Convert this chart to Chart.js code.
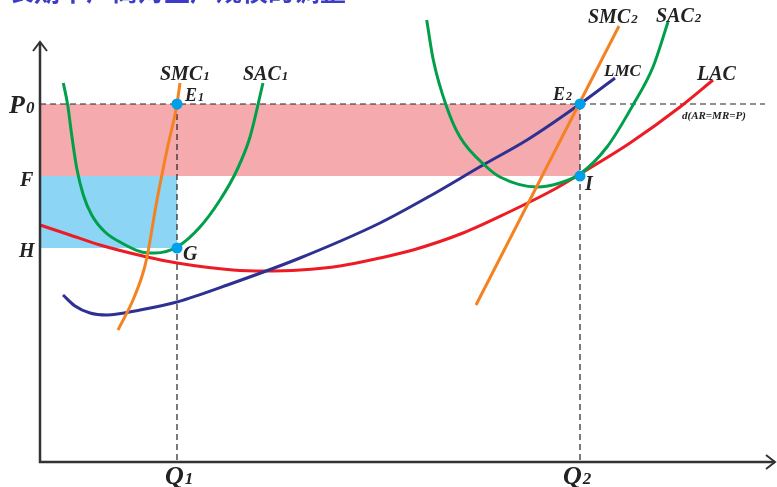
<!DOCTYPE html>
<html>
<head>
<meta charset="utf-8">
<script src="https://cdn.jsdelivr.net/npm/chart.js@4.4.1/dist/chart.umd.min.js"></script>
<style>
  body { margin: 0; background: #fff; }
  canvas { display: block; }
</style>
</head>
<body>
<canvas id="costChart" width="777" height="487"></canvas>
<script>
// 价格水平与产量
const P0 = 35.8, F = 28.6, H = 21.4;
const Q1 = 13.7, Q2 = 54.0;

// 短期成本曲线 1
const sac1X = [2.33, 2.77, 3.17, 3.67, 4.33, 5.17, 6.5, 8.17, 10.17, 11.5, 13.7, 16.0, 18.0, 19.7, 21.0, 22.3];
const sac1Y = [37.9, 35.7, 32.7, 29.4, 26.7, 24.7, 23.0, 21.9, 21.0, 20.9, 21.5, 23.5, 26.2, 29.2, 32.5, 37.9];
const smc1X = [7.8, 9.3, 10.3, 10.7, 11.7, 12.7, 13.7, 14.0];
const smc1Y = [13.2, 16.2, 18.9, 20.5, 26.2, 31.2, 35.8, 37.9];

// 短期成本曲线 2
const sac2X = [38.67, 39.33, 40.67, 42.0, 44.67, 46.0, 49.7, 52.0, 54.0, 56.7, 59.3, 61.3, 62.8];
const sac2Y = [44.2, 40.2, 35.5, 32.5, 29.5, 28.5, 27.5, 27.9, 28.8, 31.5, 35.7, 39.5, 44.0];
const smc2X = [43.6, 57.9];
const smc2Y = [15.7, 43.6];

// 长期成本曲线
const lmcX = [2.3, 3.5, 5.0, 6.7, 10.0, 13.7, 19.3, 26.0, 34.0, 39.0, 44.3, 48.7, 54.0, 57.5];
const lmcY = [16.7, 15.6, 14.9, 14.7, 15.2, 16.0, 17.9, 20.4, 23.9, 26.6, 29.7, 32.2, 35.8, 38.4];
const lacX = [0, 3.0, 6.0, 10.7, 13.7, 19.3, 22.5, 26.0, 30.0, 34.0, 37.3, 42.3, 46.7, 51.3, 54.0, 59.0, 64.0, 67.3];
const lacY = [23.7, 22.7, 21.7, 20.5, 19.9, 19.2, 19.1, 19.2, 19.6, 20.4, 21.2, 22.9, 24.9, 27.2, 28.8, 31.9, 35.5, 38.2];

const dEnd = 72.5;

const zip = (xs, ys) => xs.map((x, i) => ({ x: x, y: ys[i] }));

const GREEN = '#00a04b', ORANGE = '#f58220', NAVY = '#2e3192', RED = '#ed1c24';

function curve(xs, ys, color) {
  return {
    data: zip(xs, ys), showLine: true, borderColor: color, borderWidth: 3,
    pointRadius: 0, cubicInterpolationMode: 'monotone', fill: false, order: 1
  };
}
function dashed(points) {
  return {
    data: points, showLine: true, borderColor: '#222', borderWidth: 1.2,
    borderDash: [6, 4], pointRadius: 0, fill: false, order: 2
  };
}

// 标签: [主文字, 下标, x, y, 字号]
const labels = [
  ['SMC', '1', 12.0, 38.2, 20],
  ['SAC', '1', 20.3, 38.2, 20],
  ['E', '1', 14.5, 36.1, 18],
  ['P', '0', -3.1, 34.9, 26],
  ['F', '', -2.0, 27.6, 20],
  ['H', '', -2.1, 20.5, 20],
  ['G', '', 14.3, 20.2, 20],
  ['SMC', '2', 54.8, 43.9, 20],
  ['SAC', '2', 61.6, 44.0, 20],
  ['LMC', '', 56.4, 38.6, 17],
  ['LAC', '', 65.7, 38.2, 20],
  ['E', '2', 51.3, 36.2, 18],
  ['I', '', 54.5, 27.2, 20],
  ['d(AR=MR=P)', '', 64.2, 34.3, 11],
  ['Q', '1', 12.5, -2.2, 26],
  ['Q', '2', 52.3, -2.2, 26]
];

const overlay = {
  id: 'overlay',
  afterDatasetsDraw(chart) {
    const c = chart.ctx, xs = chart.scales.x, ys = chart.scales.y;
    const px = v => xs.getPixelForValue(v), py = v => ys.getPixelForValue(v);
    c.save();
    // 坐标轴
    c.strokeStyle = '#333'; c.lineWidth = 2.5;
    c.beginPath();
    c.moveTo(px(0), py(42)); c.lineTo(px(0), py(0)); c.lineTo(px(73.5), py(0));
    c.stroke();
    c.lineWidth = 2;
    c.beginPath();
    c.moveTo(px(0) - 7, py(42) + 9); c.lineTo(px(0), py(42)); c.lineTo(px(0) + 7, py(42) + 9);
    c.moveTo(px(73.5) - 9, py(0) - 7); c.lineTo(px(73.5), py(0)); c.lineTo(px(73.5) - 9, py(0) + 7);
    c.stroke();
    // 文字
    c.fillStyle = '#222';
    c.textBaseline = 'alphabetic'; c.textAlign = 'left';
    labels.forEach(([t, sub, x, y, size]) => {
      c.font = 'italic bold ' + size + 'px "Liberation Serif"';
      c.fillText(t, px(x), py(y));
      if (sub) {
        const w = c.measureText(t).width;
        c.font = 'italic bold ' + Math.round(size * 0.66) + 'px "Liberation Serif"';
        c.fillText(sub, px(x) + w + 1, py(y));
      }
    });
    // 顶部被裁切的标题
    c.fillStyle = '#3c3cc8';
    c.font = 'bold 26px "Noto Sans CJK SC"';
    c.fillText('长期中厂商对生产规模的调整', 8, 1);
    c.restore();
  }
};

new Chart(document.getElementById('costChart'), {
  type: 'scatter',
  data: {
    datasets: [
      {
        data: zip([Q1, Q1, Q2, Q2], [P0, H, P0, F]),
        pointRadius: 5.5, pointBackgroundColor: '#00a0e9', pointBorderWidth: 0,
        showLine: false, order: 0
      },
      curve(smc1X, smc1Y, ORANGE),
      curve(sac1X, sac1Y, GREEN),
      curve(smc2X, smc2Y, ORANGE),
      curve(sac2X, sac2Y, GREEN),
      curve(lmcX, lmcY, NAVY),
      curve(lacX, lacY, RED),
      dashed(zip([0, dEnd], [P0, P0])),
      dashed(zip([Q1, Q1], [P0, 0])),
      dashed(zip([Q2, Q2], [P0, 0])),
      {
        data: zip([0, Q2], [P0, P0]), showLine: true, borderWidth: 0,
        pointRadius: 0, backgroundColor: '#f5abae', fill: { value: F }, order: 3
      },
      {
        data: zip([0, Q1], [F, F]), showLine: true, borderWidth: 0,
        pointRadius: 0, backgroundColor: '#8cd5f5', fill: { value: H }, order: 3
      }
    ]
  },
  options: {
    responsive: false,
    animation: false,
    layout: { padding: 0, autoPadding: false },
    plugins: { legend: { display: false }, tooltip: { enabled: false } },
    scales: {
      x: { type: 'linear', min: -4.0, max: 73.7, display: false },
      y: { type: 'linear', min: -2.5, max: 46.2, display: false }
    }
  },
  plugins: [overlay]
});
</script>
</body>
</html>
